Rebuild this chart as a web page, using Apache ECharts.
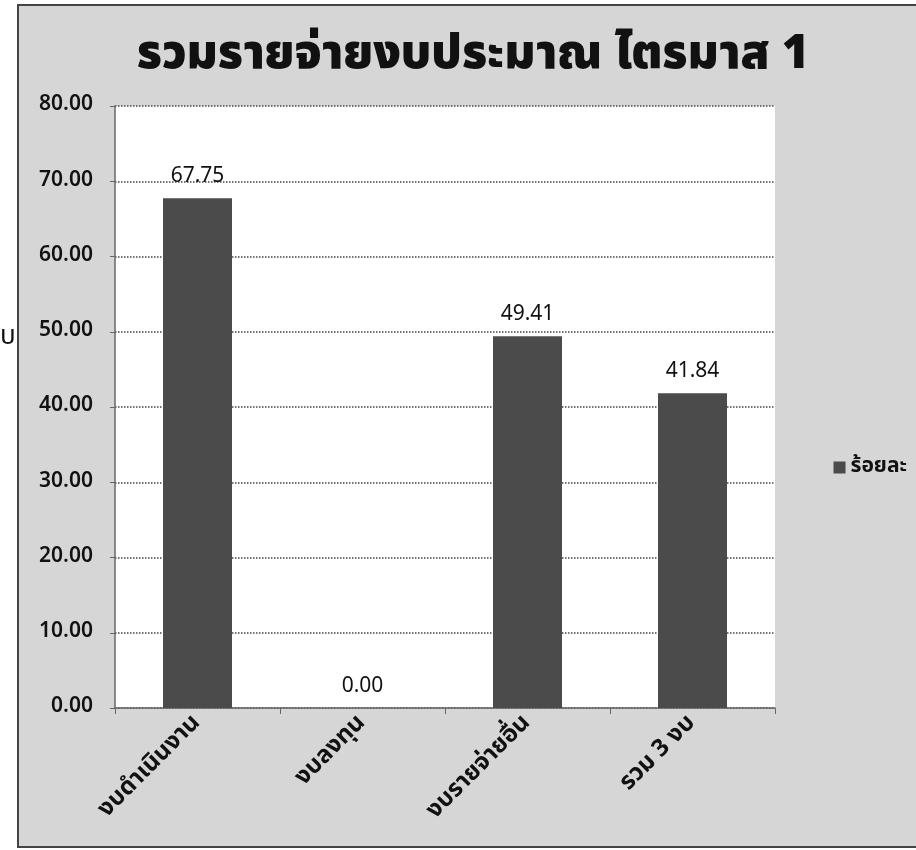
<!DOCTYPE html>
<html>
<head>
<meta charset="utf-8">
<script src="https://cdn.jsdelivr.net/npm/echarts@6/dist/echarts.min.js"></script>
<style>html,body{margin:0;padding:0;background:#fff}#c{width:916px;height:850px}</style>
</head>
<body>
<div id="c"></div>
<script>
const titleText = 'รวมรายจ่ายงบประมาณ ไตรมาส 1';
const categories = ['งบดำเนินงาน', 'งบลงทุน', 'งบรายจ่ายอื่น', 'รวม 3 งบ'];
const seriesName = 'ร้อยละ';
const values = [67.75, 0.00, 49.41, 41.84];
const yMin = 0, yMax = 80, yStep = 10;

const chart = echarts.init(document.getElementById('c'));
const font = '"Noto Sans Thai", "Noto Sans", "Open Sans", sans-serif';
chart.setOption({
  backgroundColor: '#ffffff',
  animation: false,
  graphic: [
    { type: 'rect', z: -10, shape: { x: 18, y: 5, width: 910, height: 842 },
      style: { fill: '#d6d6d6', stroke: '#444', lineWidth: 2 } },
    { type: 'text', left: 0, top: 326, style: { text: 'บ', font: '26px ' + font, fill: '#111' } }
  ],
  title: {
    text: titleText, left: 468, top: 30, textAlign: 'center',
    textStyle: { fontFamily: font, fontSize: 47, fontWeight: 900, color: '#111' }
  },
  legend: {
    right: 4, top: 452, orient: 'vertical', itemWidth: 12, itemHeight: 12, icon: 'rect', itemGap: 4,
    textStyle: { fontFamily: font, fontSize: 21, fontWeight: 'bold', color: '#111' },
    data: [seriesName]
  },
  grid: { left: 115, right: 141, top: 106, bottom: 142, show: true, backgroundColor: '#ffffff', borderWidth: 0 },
  xAxis: {
    type: 'category', data: categories,
    axisLine: { lineStyle: { color: '#666', width: 1.5 } },
    axisTick: { show: true, alignWithLabel: false, length: 6, lineStyle: { color: '#666' } },
    axisLabel: { rotate: 45, interval: 0, margin: 12, fontFamily: font, fontSize: 24, fontWeight: 'bold', color: '#111' }
  },
  yAxis: {
    type: 'value', min: yMin, max: yMax, interval: yStep,
    axisLine: { show: true, lineStyle: { color: '#666', width: 1.5 } },
    axisTick: { show: true, length: 5, lineStyle: { color: '#666' } },
    axisLabel: { formatter: v => v.toFixed(2), fontFamily: font, fontSize: 21, fontWeight: 600, color: '#111', margin: 22 },
    splitLine: { show: true, lineStyle: { color: '#444', type: 'dotted', width: 1.5 } }
  },
  series: [{
    name: seriesName, type: 'bar', data: values, barWidth: 69,
    itemStyle: { color: '#4b4b4b' },
    label: { show: true, position: 'top', distance: 10, formatter: p => p.value.toFixed(2),
      fontFamily: font, fontSize: 21, color: '#111' }
  }]
});
</script>
</body>
</html>
